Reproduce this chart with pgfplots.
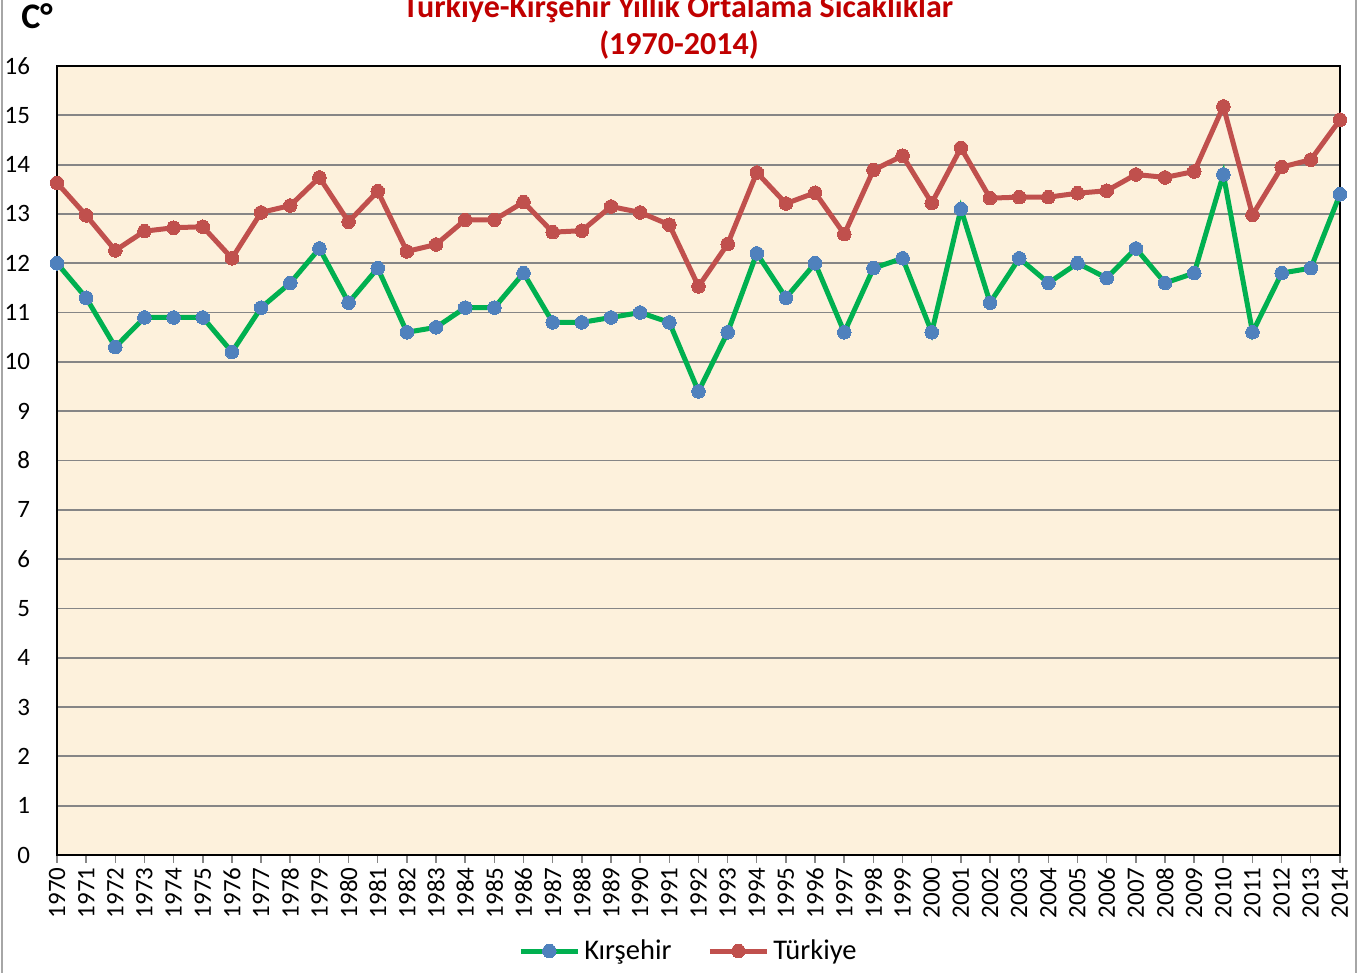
\documentclass[border=0pt]{standalone}
\usepackage{fontspec}
\setmainfont{Carlito}
\usepackage{pgfplots}
\pgfplotsset{compat=1.18}
\definecolor{kgreen}{HTML}{00B050}
\definecolor{kblue}{HTML}{4F81BD}
\definecolor{tred}{HTML}{C0504D}
\definecolor{ttl}{HTML}{C00000}
\definecolor{bgc}{HTML}{FDF1DC}
\definecolor{gridc}{HTML}{868686}
\begin{document}
\begin{tikzpicture}
\useasboundingbox (0,0) rectangle (683.5pt,486.5pt);
\draw[gray!70, line width=1pt] (1pt,-10pt) rectangle (678pt,500pt);
\node[anchor=base, text=ttl, font=\fontsize{16}{18}\selectfont\bfseries] at (339pt,477.5pt) {Türkiye-Kırşehir Yıllık Ortalama Sıcaklıklar};
\node[anchor=base, text=ttl, font=\fontsize{16}{18}\selectfont\bfseries] at (339.5pt,459pt) {(1970-2014)};
\node[anchor=base west, font=\fontsize{18}{20}\selectfont\bfseries, inner sep=0pt] at (10.5pt,472pt) {C°};
\begin{axis}[
  at={(28.5pt,59pt)}, anchor=south west,
  scale only axis, width=641.5pt, height=394.5pt,
  xmin=1970, xmax=2014, ymin=0, ymax=16,
  xtick={1970,...,2014}, ytick={0,...,16},
  xtick pos=lower,
  /pgf/number format/1000 sep={},
  /pgf/number format/assume math mode=true,
  tick label style={font=\fontsize{12.5}{14}\selectfont},
  xticklabel style={rotate=90, anchor=east, inner sep=2pt},
  yticklabel style={anchor=east, xshift=-6pt},
  tick align=outside,
  xtick style={draw=gridc, line width=0.75pt},
  major tick length=4pt,
  ytick style={draw=none},
  ymajorgrids, grid style={draw=gridc, line width=0.9pt},
  axis line style={black, line width=0.9pt},
  axis background/.style={fill=bgc},
  clip=false,
  legend style={at={(axis description cs:0.493,-0.1217)}, anchor=center, draw=none, fill=none,
    font=\fontsize{14.25}{16}\selectfont, legend columns=2,
    /tikz/every odd column/.append style={inner xsep=0pt},
    /tikz/every even column/.append style={column sep=16pt}},
  legend cell align=left,
  legend image code/.code={\draw[mark repeat=2,mark phase=2] plot coordinates {(0cm,0cm) (0.5cm,0cm) (1.0cm,0cm)};},
]
\addplot[kgreen, line width=2.5pt, mark=*, mark size=3.4pt, mark options={fill=kblue, draw=kblue, line width=0pt}] coordinates {
(1970,12.0)(1971,11.3)(1972,10.3)(1973,10.9)(1974,10.9)(1975,10.9)(1976,10.2)(1977,11.1)(1978,11.6)(1979,12.3)
(1980,11.2)(1981,11.9)(1982,10.6)(1983,10.7)(1984,11.1)(1985,11.1)(1986,11.8)(1987,10.8)(1988,10.8)(1989,10.9)
(1990,11.0)(1991,10.8)(1992,9.4)(1993,10.6)(1994,12.2)(1995,11.3)(1996,12.0)(1997,10.6)(1998,11.9)(1999,12.1)
(2000,10.6)(2001,13.1)(2002,11.2)(2003,12.1)(2004,11.6)(2005,12.0)(2006,11.7)(2007,12.3)(2008,11.6)(2009,11.8)
(2010,13.8)(2011,10.6)(2012,11.8)(2013,11.9)(2014,13.4)};
\addlegendentry{Kırşehir}
\addplot[tred, line width=2.5pt, mark=*, mark size=3.4pt, mark options={fill=tred, draw=tred, line width=0pt}] coordinates {
(1970,13.63)(1971,12.97)(1972,12.26)(1973,12.65)(1974,12.72)(1975,12.74)(1976,12.10)(1977,13.03)(1978,13.17)(1979,13.74)
(1980,12.84)(1981,13.46)(1982,12.24)(1983,12.38)(1984,12.88)(1985,12.88)(1986,13.24)(1987,12.63)(1988,12.66)(1989,13.15)
(1990,13.03)(1991,12.78)(1992,11.53)(1993,12.39)(1994,13.84)(1995,13.21)(1996,13.43)(1997,12.59)(1998,13.89)(1999,14.18)
(2000,13.22)(2001,14.34)(2002,13.32)(2003,13.34)(2004,13.34)(2005,13.42)(2006,13.47)(2007,13.80)(2008,13.74)(2009,13.86)
(2010,15.18)(2011,12.98)(2012,13.95)(2013,14.10)(2014,14.91)};
\addlegendentry{Türkiye}
\end{axis}
\end{tikzpicture}
\end{document}
